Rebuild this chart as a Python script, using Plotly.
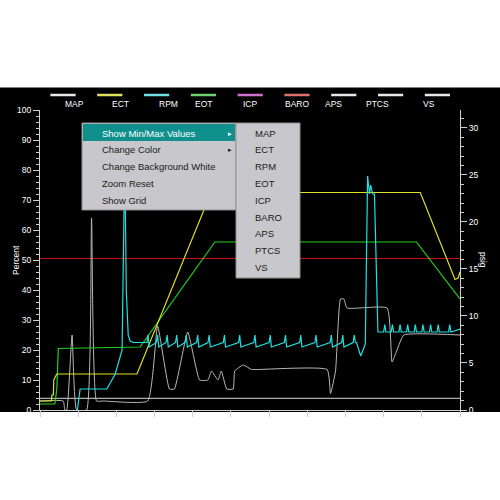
import plotly.graph_objects as go

# time axis 0..110, values in percent (left axis)
baro_x = [0, 110]
baro_y = [50.5, 50.5]

vs_x = [0, 110]
vs_y = [3.9, 3.9]

eot_x = [0, 3.9, 4.4, 4.8, 26.2, 45.8, 98.6, 110]
eot_y = [2, 2, 7, 20.5, 21, 56, 56, 37]

ect_x = [0, 3.0, 3.1, 3.5, 3.6, 4.4, 25.4, 44.8, 99.6, 108.7, 109.5, 110]
ect_y = [3, 3, 5, 5, 10, 12, 12, 72.5, 72.5, 43.5, 44, 46]

rpm_x = [9.8, 10.5, 17.5, 19.7, 21.5, 22.2, 22.6, 23.1, 23.6, 24.4, 25.3,
         28.0, 28.3, 28.6, 30.5, 30.8, 31.1, 33.0, 33.3, 33.6, 35.5, 35.8, 36.1,
         38.0, 38.3, 38.6, 41.0, 41.3, 41.6, 44.0, 44.3, 44.6, 48.0, 48.3, 48.6,
         52.0, 52.3, 52.6, 56.0, 56.3, 56.6, 60.0, 60.3, 60.6, 64.0, 64.3, 64.6,
         68.0, 68.3, 68.6, 72.0, 72.3, 72.6, 76.0, 76.3, 76.6, 79.0, 79.3, 79.6,
         82.0, 82.3, 82.6, 82.9, 84.0, 85.2, 85.8, 86.3, 86.6, 87.1, 87.6, 88.5, 88.9,
         90.0, 90.3, 90.6, 92.0, 92.3, 92.6, 94.0, 94.3, 94.6, 96.0, 96.3, 96.6,
         98.0, 98.3, 98.6, 100.0, 100.3, 100.6, 102.0, 102.3, 102.6, 104.0, 104.3, 104.6,
         107.0, 107.3, 107.6, 110]
rpm_y = [0, 7, 7, 12, 20, 85, 40, 25, 23, 22.5, 22.5,
         22.5, 25, 21, 22.5, 25, 21, 22.5, 25, 21, 22.5, 25, 21,
         22.5, 25, 21, 22.5, 25, 21, 22.5, 25, 21, 22.5, 25, 21,
         22.5, 25, 21, 22.5, 25, 21, 22.5, 25, 21, 22.5, 25, 21,
         22.5, 25, 21, 22.5, 25, 21, 22.5, 25, 21, 22.5, 25, 21,
         22.5, 25, 22.5, 22.5, 18, 22, 78, 72, 75, 72, 72, 26, 26,
         26, 28.5, 26, 26, 28.5, 26, 26, 28.5, 26, 26, 28.5, 26,
         26, 28.5, 26, 26, 28.5, 26, 26, 28.5, 26, 26, 28.5, 26,
         26, 28.5, 26, 27]

map_x = [0, 6.1, 6.5, 7.0, 8.4, 9.6, 12.2, 13.5, 14.8, 16.6, 28.2, 30.8, 33.9,
         35.2, 38.7, 41.8, 44.0, 44.9, 46.6, 47.5, 48.9, 50.6, 51.0, 53.2, 55.4,
         57.2, 75.2, 76.1, 77.4, 78.7, 79.6, 80.4, 90.9, 92.2, 93.5, 95.3, 110]
map_y = [3, 3, 0, 0, 25, 0, 0, 64, 3, 3, 3, 28, 7,
         7, 26, 10, 10, 13, 10, 13, 7, 7, 13, 15, 13.5,
         13.5, 13.5, 5.5, 13, 37, 37, 34, 34, 16, 20, 25, 25]

legend_names = ["MAP", "ECT", "RPM", "EOT", "ICP", "BARO", "APS", "PTCS", "VS"]
legend_colors = ["#e8e8e8", "#e0e060", "#70e0e0", "#70d070", "#d070d0",
                 "#e07070", "#e8e8e8", "#e8e8e8", "#e8e8e8"]

menu_items = ["Show Min/Max Values", "Change Color", "Change Background White",
              "Zoom Reset", "Show Grid"]
submenu_items = ["MAP", "ECT", "RPM", "EOT", "ICP", "BARO", "APS", "PTCS", "VS"]

fig = go.Figure()
fig.add_trace(go.Scatter(x=vs_x, y=vs_y, mode="lines", line=dict(color="#d8d8d8", width=1)))
fig.add_trace(go.Scatter(x=baro_x, y=baro_y, mode="lines", line=dict(color="#cc1010", width=1)))
fig.add_trace(go.Scatter(x=map_x, y=map_y, mode="lines", line=dict(color="#b8b8b8", width=1, shape="spline", smoothing=0.4)))
fig.add_trace(go.Scatter(x=eot_x, y=eot_y, mode="lines", line=dict(color="#20d020", width=1.2)))
fig.add_trace(go.Scatter(x=ect_x, y=ect_y, mode="lines", line=dict(color="#e0e020", width=1.2)))
fig.add_trace(go.Scatter(x=rpm_x, y=rpm_y, mode="lines", line=dict(color="#20e0e0", width=1.2)))

font = dict(family="Liberation Sans, Arial", color="white", size=8.5)
shapes = [dict(type="rect", xref="paper", yref="paper", x0=-0.1, x1=1.1, y0=-0.007, y1=1.075,
               fillcolor="black", line_width=0, layer="below")]
annotations = []


def px(x):
    return (x - 40) / 420


def py(y):
    return (410 - y) / 300


# legend strip
for i, (name, col) in enumerate(zip(legend_names, legend_colors)):
    cx = px(63 + i * 46.8)
    shapes.append(dict(type="line", xref="paper", yref="paper", x0=cx - 0.03, x1=cx + 0.03,
                       y0=py(95), y1=py(95), line=dict(color=col, width=2.5)))
    annotations.append(dict(xref="paper", yref="paper", x=cx, y=py(104), yanchor="middle", text=name,
                            showarrow=False, font=font))

# context menu
shapes.append(dict(type="rect", xref="paper", yref="paper", x0=px(82), x1=px(236), y0=py(210), y1=py(123),
                   fillcolor="#c8c8cc", line=dict(color="#909090", width=1)))
shapes.append(dict(type="rect", xref="paper", yref="paper", x0=px(83), x1=px(235), y0=py(141), y1=py(124),
                   fillcolor="#10908c", line_width=0))
shapes.append(dict(type="rect", xref="paper", yref="paper", x0=px(236), x1=px(300), y0=py(278), y1=py(123),
                   fillcolor="#c8c8cc", line=dict(color="#909090", width=1)))
for i, t in enumerate(menu_items):
    annotations.append(dict(xref="paper", yref="paper", x=px(100), y=py(133 + i * 16.8), text=t,
                            xanchor="left", yanchor="middle", showarrow=False,
                            font=dict(family="Liberation Sans, Arial", size=9.5,
                                      color="white" if i == 0 else "#202020")))
for i in range(2):
    annotations.append(dict(xref="paper", yref="paper", x=px(230), y=py(133 + i * 16.8), text="\u25b8",
                            yanchor="middle", showarrow=False,
                            font=dict(size=7, color="white" if i == 0 else "#202020")))
for i, t in enumerate(submenu_items):
    annotations.append(dict(xref="paper", yref="paper", x=px(253), y=py(133 + i * 16.8), text=t,
                            xanchor="left", yanchor="middle", showarrow=False,
                            font=dict(family="Liberation Sans, Arial", size=9.5, color="#202020")))

annotations.append(dict(xref="paper", yref="paper", x=px(9), y=0.5, text="Percent", textangle=-90,
                        showarrow=False, font=font))
annotations.append(dict(xref="paper", yref="paper", x=px(490), y=0.5, text="psig", textangle=90,
                        showarrow=False, font=font))

axis_common = dict(showgrid=False, zeroline=False, showline=True, linecolor="#d0d0d0",
                   ticks="outside", tickcolor="#d0d0d0", ticklen=6, tickfont=font)
fig.update_layout(
    width=500, height=500, showlegend=False,
    margin=dict(l=40, r=40, t=110, b=90),
    paper_bgcolor="white", plot_bgcolor="black",
    xaxis=dict(range=[0, 110], dtick=10, showticklabels=False, **axis_common),
    yaxis=dict(range=[0, 100], dtick=10, minor=dict(dtick=2, ticklen=3, tickcolor="#d0d0d0", ticks="outside"),
               **axis_common),
    yaxis2=dict(range=[0, 31.9], dtick=5, overlaying="y", side="right",
                minor=dict(dtick=1, ticklen=3, tickcolor="#d0d0d0", ticks="outside"), **axis_common),
    shapes=shapes, annotations=annotations,
)
fig.add_trace(go.Scatter(x=[0], y=[0], yaxis="y2", mode="markers", marker=dict(opacity=0), hoverinfo="skip"))

fig.write_html("out.html", config={"displayModeBar": False},
               post_script="document.body.style.margin='0';document.body.style.overflow='hidden';")
